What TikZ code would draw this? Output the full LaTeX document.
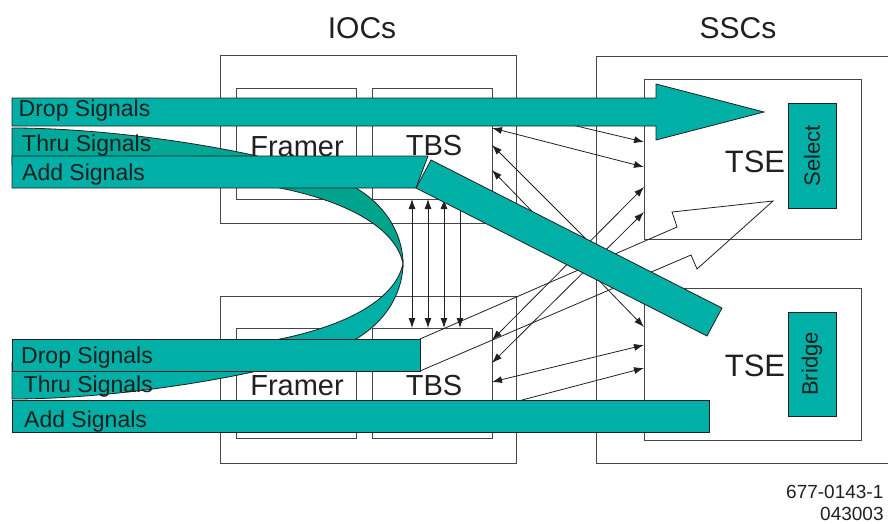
\documentclass[tikz,border=0pt]{standalone}
\usepackage{fontspec}
\setmainfont{Liberation Sans}
\usetikzlibrary{arrows.meta}
\definecolor{tealA}{RGB}{0,175,165}
\definecolor{tealB}{RGB}{0,163,138}
\definecolor{tealC}{RGB}{0,170,156}
\definecolor{boxgray}{RGB}{70,70,70}
\definecolor{ink}{RGB}{35,31,32}
\begin{document}
\begin{tikzpicture}[x=1pt,y=-1pt,
  box/.style={draw=boxgray, line width=1pt, anchor=north west, inner sep=0pt, outer sep=0pt},
  tealbox/.style={box, fill=tealA, draw=ink},
  band/.style={fill=tealA, draw=ink, line width=0.8pt, line join=miter},
  ribbonup/.style={left color=tealC, right color=tealB, draw=ink, line width=0.8pt},
  ribbonlow/.style={fill=tealA, draw=ink, line width=0.8pt},
  tipA/.tip={Latex[length=10pt,width=7pt]},
  link/.style={draw=ink, line width=0.8pt, tipA-tipA},
  onelink/.style={draw=ink, line width=0.8pt, -tipA},
  hollow/.style={draw=ink, line width=0.8pt, line join=miter},
  biglbl/.style={text=ink, inner sep=0pt, font=\fontsize{29}{29}\selectfont},
  titlelbl/.style={text=ink, inner sep=0pt, font=\fontsize{30}{30}\selectfont},
  tselbl/.style={text=ink, inner sep=0pt, font=\fontsize{31}{31}\selectfont},
  siglbl/.style={text=ink, inner sep=0pt, anchor=base west, font=\fontsize{23}{23}\selectfont},
  vertlbl/.style={text=ink, inner sep=0pt, rotate=90, font=\fontsize{22}{22}\selectfont},
  numlbl/.style={text=ink, inner sep=0pt, anchor=base west, font=\fontsize{19}{19}\selectfont}
]
\path[use as bounding box, clip] (0,0) rectangle (888,523);

% ---------- boxes ----------
\node[box, minimum width=296pt, minimum height=168pt] (ioc1) at (220,55) {};
\node[box, minimum width=120pt, minimum height=111pt] (fr1) at (236,88) {};
\node[box, minimum width=120pt, minimum height=111pt] (tbs1) at (372,88) {};
\node[box, minimum width=296pt, minimum height=167pt] (ioc2) at (220,296) {};
\node[box, minimum width=120pt, minimum height=110pt] (fr2) at (236,328) {};
\node[box, minimum width=120pt, minimum height=110pt] (tbs2) at (372,328) {};
\draw[draw=boxgray, line width=1pt] (890,56) -- (596,56) -- (596,463) -- (890,463);
\node[box, minimum width=217pt, minimum height=160pt] (tse1) at (644,79) {};
\node[box, minimum width=217pt, minimum height=152pt] (tse2) at (644,288) {};

% ---------- thin arrow end points ----------
\coordinate (a1s) at (492,106); \coordinate (a1e) at (644,142);
\coordinate (a2s) at (492,128); \coordinate (a2e) at (644,167);
\coordinate (a3s) at (492,145); \coordinate (a3e) at (644,297);
\coordinate (a4s) at (492,170); \coordinate (a4e) at (644,327);
\coordinate (a5s) at (492,340); \coordinate (a5e) at (644,187);
\coordinate (a6s) at (492,363); \coordinate (a6e) at (644,212);
\coordinate (a7s) at (492,382); \coordinate (a7e) at (644,345);
\coordinate (a8s) at (522,400); \coordinate (a8e) at (644,368);
\coordinate (v1t) at (412,199); \coordinate (v1b) at (412,328);
\coordinate (v2t) at (428,199); \coordinate (v2b) at (428,328);
\coordinate (v3t) at (444,199); \coordinate (v3b) at (444,328);
\coordinate (v4t) at (460,199); \coordinate (v4b) at (460,328);

\draw[onelink] (a1s) -- (a1e);
\draw[link] (a2s) -- (a2e);
\draw[link] (a3s) -- (a3e);
\draw[link] (a4s) -- (a4e);
\draw[link] (a5s) -- (a5e);
\draw[link] (a6s) -- (a6e);
\draw[link] (a7s) -- (a7e);
\draw[onelink] (a8s) -- (a8e);
\draw[link] (v1t) -- (v1b);
\draw[link] (v2t) -- (v2b);
\draw[link] (v3t) -- (v3b);
\draw[link] (v4t) -- (v4b);

% ---------- hollow arrow ----------
\coordinate (h1) at (420,339); \coordinate (h2) at (677,227);
\coordinate (h3) at (672,212); \coordinate (h4) at (773,201);
\coordinate (h5) at (697,269); \coordinate (h6) at (691,255);
\coordinate (h7) at (420,371);
\draw[hollow] (h1) -- (h2) -- (h3) -- (h4) -- (h5) -- (h6) -- (h7);

% ---------- thru ribbon ----------
\draw[ribbonup] (12,128) .. controls (120,128) and (260,151) .. (330,176)
  .. controls (390,197) and (403,240) .. (403,263.5)
  .. controls (395,225) and (340,200) .. (280,188)
  .. controls (200,172) and (100,165) .. (12,165) -- cycle;
\draw[ribbonlow] (12,399) .. controls (120,399) and (260,376) .. (330,351)
  .. controls (390,330) and (403,287) .. (403,263.5)
  .. controls (395,302) and (340,327) .. (280,339)
  .. controls (200,355) and (100,362) .. (12,362) -- cycle;

% ---------- box labels ----------
\node[titlelbl, anchor=base] (tioc) at (362,38) {IOCs};
\node[titlelbl, anchor=base] (tssc) at (738,38) {SSCs};
\node[biglbl, anchor=base] (lfr1) at (297,156) {Framer};
\node[biglbl, anchor=base] (ltbs1) at (434,155) {TBS};
\node[biglbl, anchor=base] (lfr2) at (297,395) {Framer};
\node[biglbl, anchor=base] (ltbs2) at (434,395) {TBS};
\node[tselbl, anchor=base] (ltse1) at (755,172) {TSE};
\node[tselbl, anchor=base] (ltse2) at (755,376) {TSE};

% ---------- signal bands ----------
\draw[band] (12,98) -- (656,98) -- (656,84) -- (764,112) -- (656,140) -- (656,126) -- (12,126) -- cycle;
\draw[band] (12,156) -- (428,156) -- (416,188) -- (12,188) -- cycle;
\draw[band] (431,160) -- (722,308) -- (707,336) -- (416,188) -- cycle;
\draw[band] (12,339) rectangle (420,371);
\draw[band] (12,400) rectangle (709,432);

\node[siglbl] (sd1) at (18.5,116) {Drop Signals};
\node[siglbl] (st1) at (22,151) {Thru Signals};
\node[siglbl] (sa1) at (22,180) {Add Signals};
\node[siglbl] (sd2) at (21,363) {Drop Signals};
\node[siglbl] (st2) at (23.5,392) {Thru Signals};
\node[siglbl] (sa2) at (24,427) {Add Signals};

% ---------- select / bridge ----------
\node[tealbox, minimum width=48pt, minimum height=105pt] (sel) at (788,103) {};
\node[vertlbl] (lsel) at (sel.center) {Select};
\node[tealbox, minimum width=48pt, minimum height=104pt] (bri) at (788,312) {};
\node[vertlbl] (lbri) at (bri.center) {Bridge};

% ---------- drawing number ----------
\node[numlbl] (n1) at (786,498) {677-0143-1};
\node[numlbl] (n2) at (820,520) {043003};
\end{tikzpicture}
\end{document}
